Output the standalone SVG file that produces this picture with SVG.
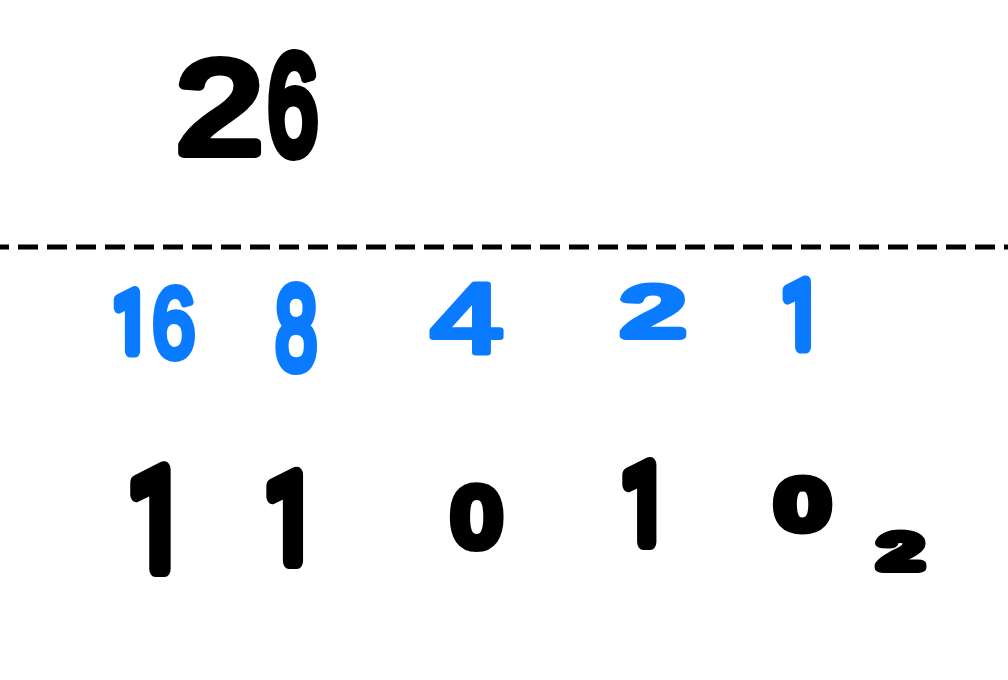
<svg xmlns="http://www.w3.org/2000/svg" width="1008" height="680" viewBox="0 0 1008 680">
<style>
text{font-family:"Liberation Sans",Arial,sans-serif;stroke-linejoin:round;stroke-linecap:round;}
.one{font-family:Roboto,"Open Sans",sans-serif;}
.k{fill:#000;stroke:#000;}
.b{fill:#0a7aff;stroke:#0a7aff;}
</style>
<rect width="1008" height="680" fill="#fff"/>
<g id="decimal-26">
<text class="k" transform="translate(218.5,153) scale(1.19,1)" x="-35.5" y="0" font-size="131" stroke-width="10">2</text>
<text class="k" transform="translate(292.5,154.3) scale(0.645,1)" x="-38.8" y="0" font-size="141" stroke-width="12">6</text>
</g>
<g id="divider">
<line x1="0" y1="247" x2="1008" y2="247" stroke="#000" stroke-width="5" stroke-dasharray="20 9" stroke-dashoffset="11"/>
</g>
<g id="place-values">
<text class="b one" transform="translate(132,350.5) scale(0.75,1)" x="-24.6" y="0" font-size="81.6" stroke-width="13">1</text>
<text class="b" transform="translate(173.5,356.8) scale(0.785,1)" x="-27.1" y="0" font-size="98.5" stroke-width="8">6</text>
<text class="b" transform="translate(296,368.6) scale(0.637,1)" x="-32.7" y="0" font-size="118.4" stroke-width="10">8</text>
<text class="b" transform="translate(465.5,352) scale(1.34,1)" x="-26.2" y="0" font-size="97.8" stroke-width="6">4</text>
<text class="b" transform="translate(652,336) scale(1.68,1)" x="-18.8" y="0" font-size="69.5" stroke-width="8">2</text>
<text class="b one" transform="translate(802.5,346.5) scale(0.75,1)" x="-27.6" y="0" font-size="91.4" stroke-width="13">1</text>
</g>
<g id="binary-digits">
<text class="k one" transform="translate(159,569) scale(0.75,1)" x="-42" y="0" font-size="139.2" stroke-width="16">1</text>
<text class="k one" transform="translate(292,561) scale(0.75,1)" x="-36.5" y="0" font-size="121" stroke-width="16">1</text>
<text class="k" transform="translate(476.5,545) scale(1.05,1)" x="-22.7" y="0" font-size="82" stroke-width="12">0</text>
<text class="k one" transform="translate(646,542) scale(0.75,1)" x="-32.7" y="0" font-size="108.3" stroke-width="16">1</text>
<text class="k" transform="translate(802.5,528.2) scale(1.33,1)" x="-19" y="0" font-size="68.6" stroke-width="12">0</text>
<text class="k" transform="translate(900,568) scale(1.61,1)" x="-13.2" y="0" font-size="48.7" stroke-width="10">2</text>
</g>
</svg>
